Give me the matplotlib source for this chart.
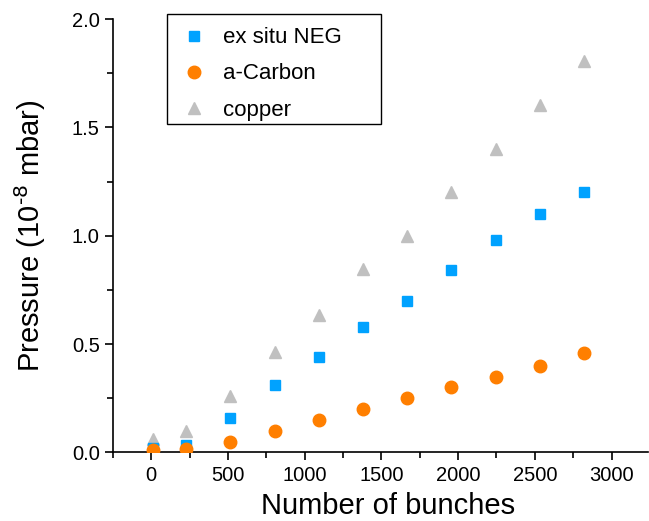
# pressure rise vs number of bunches for three chamber coatings

import numpy as np
import matplotlib.pyplot as plt
from matplotlib.patches import Rectangle

plt.rcParams['font.family'] = ['Liberation Sans', 'DejaVu Sans']

bunches = [12, 228, 516, 804, 1092, 1380, 1668, 1956, 2244, 2532, 2820]
neg = [0.02, 0.035, 0.16, 0.31, 0.44, 0.58, 0.70, 0.84, 0.98, 1.10, 1.20]
carbon = [0.012, 0.015, 0.05, 0.10, 0.15, 0.20, 0.25, 0.30, 0.35, 0.40, 0.46]
copper = [0.06, 0.10, 0.26, 0.465, 0.635, 0.845, 1.00, 1.20, 1.40, 1.605, 1.805]

fig = plt.figure(figsize=(6.49, 5.21), dpi=100)
ax = fig.add_axes([0.174, 0.1315, 0.825, 0.832])

ax.plot(bunches, neg, 's', color='#00A2FF', markersize=7, label='ex situ NEG', zorder=3)
ax.plot(bunches, carbon, 'o', color='#FF7F00', markersize=9, label='a-Carbon', zorder=4)
ax.plot(bunches, copper, '^', color='#C0C0C0', markersize=9, label='copper', zorder=2)

ax.set_xlim(-250, 3240)
ax.set_ylim(0, 2.0)
ax.set_xticks(np.arange(0, 3001, 500))
ax.set_xticks(np.arange(-250, 3240, 250), minor=True)
ax.set_yticks(np.arange(0, 2.01, 0.5))
ax.set_yticks(np.arange(0, 2.01, 0.25), minor=True)
ax.yaxis.set_major_formatter(plt.FormatStrFormatter('%.1f'))

for s in ['top', 'right']:
    ax.spines[s].set_visible(False)
for s in ['left', 'bottom']:
    ax.spines[s].set_linewidth(1.2)
ax.tick_params(which='major', direction='out', length=6, width=1.2, labelsize=14.5)
ax.tick_params(which='minor', direction='out', length=4, width=1.2)

ax.set_xlabel('Number of bunches', fontsize=21, labelpad=6)
ax.xaxis.set_label_coords(0.514, -0.09)
ax.set_ylabel(r'Pressure (10$^{\text{-8}}$ mbar)', fontsize=21, labelpad=17)

leg = ax.legend(loc='upper left', bbox_to_anchor=(0.2475, 0.986),
                bbox_transform=fig.transFigure, fontsize=16, frameon=False,
                handletextpad=0.7, labelspacing=0.68, borderpad=0.4,
                handlelength=1.2)
# the legend box in the original is wider than its entries
fig.patches.append(Rectangle((0.2573, 0.762), 0.3297, 0.2111, transform=fig.transFigure,
                             fill=False, edgecolor='black', linewidth=1.0))

plt.savefig('out.png', dpi=100)
